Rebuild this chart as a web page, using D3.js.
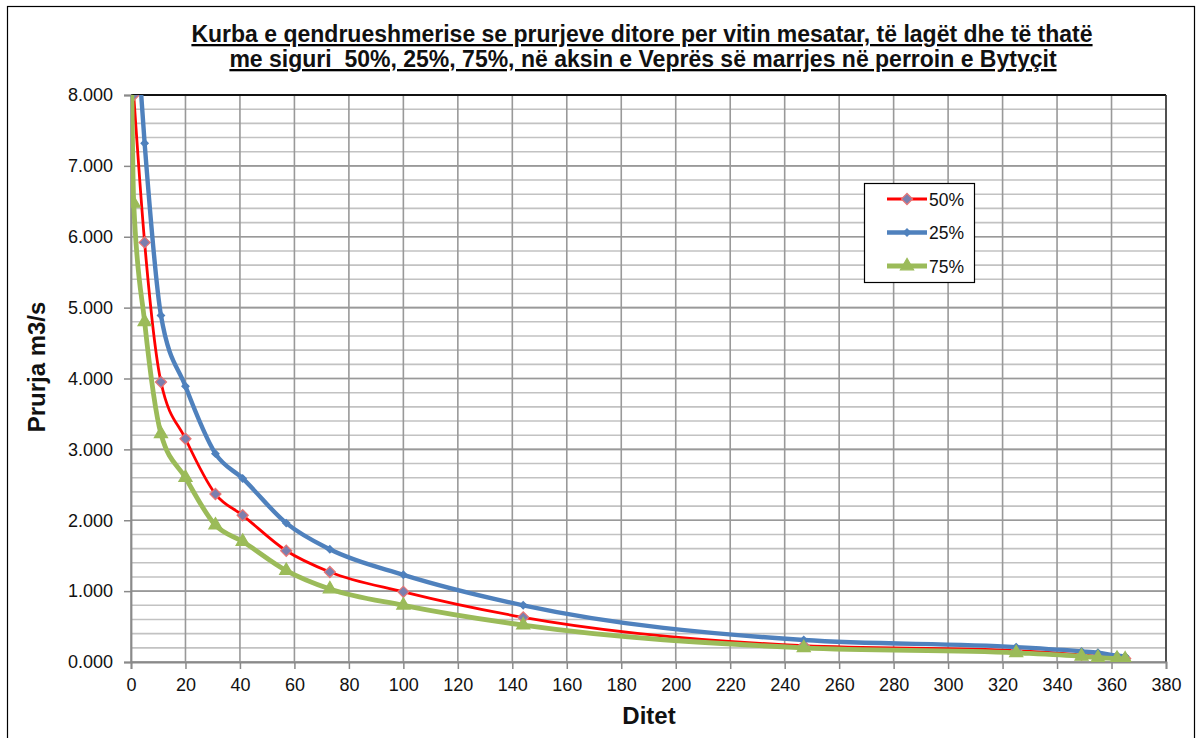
<!DOCTYPE html>
<html lang="sq">
<head>
<meta charset="UTF-8">
<title>Kurba e qendrueshmerise</title>
<script src="https://cdn.jsdelivr.net/npm/d3@7"></script>
<style>
  body { margin: 0; background: #fff; font-family: "Liberation Sans", Arial, sans-serif; }
  svg text { fill: #111; }
</style>
</head>
<body>
<svg id="chart" width="1201" height="738"></svg>
<script>
// days on x (shared), flow values per series (m3/s); null = no point
const days   = [0, 1, 5, 11, 20, 31, 41, 57, 73, 100, 144, 247, 325, 349, 355, 362, 365];
const p50    = [null, 8.0, 5.92, 3.95, 3.15, 2.37, 2.07, 1.57, 1.27, 0.99, 0.63, 0.23, 0.16, 0.10, 0.08, 0.06, 0.05];
const p25    = [null, 9.5, 7.32, 4.89, 3.89, 2.94, 2.59, 1.96, 1.59, 1.23, 0.80, 0.31, 0.21, 0.15, 0.13, 0.09, 0.08];
const p75    = [9.0, 6.47, 4.80, 3.22, 2.60, 1.93, 1.70, 1.29, 1.03, 0.80, 0.52, 0.20, 0.13, 0.08, 0.06, 0.05, 0.04];
const seriesNames = ["50%", "25%", "75%"];
const xTicks = d3.range(0, 381, 20);
const yTicks = d3.range(0, 8.01, 1);
const yMinor = d3.range(0, 8.01, 0.2);

const svg = d3.select("#chart");
const pLeft = 131, pRight = 1166, pTop = 95, pBottom = 662;

const x = d3.scaleLinear().domain([0, 380]).range([pLeft, pRight]);
const y = d3.scaleLinear().domain([0, 8]).range([pBottom, pTop]);

// outer chart border
svg.append("rect").attr("x", 7.5).attr("y", 6.5).attr("width", 1187).attr("height", 760)
  .attr("fill", "none").attr("stroke", "#000").attr("stroke-width", 1.2);

// title
const title = svg.append("g").attr("font-weight", "bold").attr("font-size", 23)
  .attr("text-anchor", "middle").attr("text-decoration", "underline");
title.append("text").attr("x", 642).attr("y", 42)
  .text("Kurba e qendrueshmerise se prurjeve ditore per vitin mesatar, të lagët dhe të thatë");
title.append("text").attr("x", 643).attr("y", 67)
  .style("white-space", "pre")
  .text("me siguri  50%, 25%, 75%, në aksin e Veprës së marrjes në perroin e Bytyçit");

// grid
const grid = svg.append("g");
grid.selectAll(".minor").data(yMinor).join("line")
  .attr("x1", pLeft).attr("x2", pRight).attr("y1", d => y(d)).attr("y2", d => y(d))
  .attr("stroke", "#c2c2c2").attr("stroke-width", 1.6);
grid.selectAll(".major").data(yTicks).join("line")
  .attr("x1", pLeft).attr("x2", pRight).attr("y1", d => y(d)).attr("y2", d => y(d))
  .attr("stroke", "#999").attr("stroke-width", 1.6);
grid.selectAll(".vx").data(xTicks).join("line")
  .attr("x1", d => x(d)).attr("x2", d => x(d)).attr("y1", pTop).attr("y2", pBottom)
  .attr("stroke", "#999").attr("stroke-width", 1.6);

// plot border (top & right dark)
svg.append("line").attr("x1", pLeft).attr("x2", pRight).attr("y1", pTop).attr("y2", pTop)
  .attr("stroke", "#111").attr("stroke-width", 1.8);
svg.append("line").attr("x1", pRight).attr("x2", pRight).attr("y1", pTop).attr("y2", pBottom)
  .attr("stroke", "#333").attr("stroke-width", 1.5);

// axes
const yAxis = svg.append("g").attr("transform", `translate(${pLeft},0)`)
  .call(d3.axisLeft(y).tickValues(yTicks).tickFormat(d3.format(".3f")).tickSize(7).tickPadding(11));
const xAxis = svg.append("g").attr("transform", `translate(0,${pBottom})`)
  .call(d3.axisBottom(x).tickValues(xTicks).tickSize(7).tickPadding(9));
[yAxis, xAxis].forEach(a => {
  a.select(".domain").attr("stroke", "#8a8a8a").attr("stroke-width", 1.8);
  a.selectAll(".tick line").attr("stroke", "#8a8a8a").attr("stroke-width", 1.5);
  a.selectAll("text").attr("font-size", 18).attr("font-family", "Liberation Sans, Arial, sans-serif").attr("fill", "#111");
});

svg.append("text").attr("transform", "translate(45,367) rotate(-90)")
  .attr("text-anchor", "middle").attr("font-weight", "bold").attr("font-size", 24).text("Prurja m3/s");
svg.append("text").attr("x", 649).attr("y", 724)
  .attr("text-anchor", "middle").attr("font-weight", "bold").attr("font-size", 24).text("Ditet");

// series
svg.append("clipPath").attr("id", "plot").append("rect")
  .attr("x", pLeft).attr("y", pTop).attr("width", pRight - pLeft).attr("height", pBottom - pTop);

const series = [
  { name: seriesNames[0], values: p50, color: "#ff0000", width: 2.8,
    symbol: d3.symbolSquare, size: 62, rot: 45, fill: "#7b7fae", stroke: "#e87474" },
  { name: seriesNames[1], values: p25, color: "#4f81bd", width: 4.4,
    symbol: d3.symbolSquare, size: 26, rot: 45, fill: "#4f81bd", stroke: "#4f81bd" },
  { name: seriesNames[2], values: p75, color: "#9bbb59", width: 4.8,
    symbol: d3.symbolTriangle, size: 75, rot: 0, fill: "#9bbb59", stroke: "#9bbb59" }
];

const line = d3.line()
  .defined(d => d[1] != null)
  .x(d => x(d[0])).y(d => y(d[1]))
  .curve(d3.curveMonotoneX);

const plot = svg.append("g").attr("clip-path", "url(#plot)");
series.forEach(s => {
  const pts = days.map((d, i) => [d, s.values[i]]);
  plot.append("path").datum(pts).attr("d", line)
    .attr("fill", "none").attr("stroke", s.color).attr("stroke-width", s.width)
    .attr("stroke-linejoin", "round");
  plot.selectAll(null).data(pts.filter(p => p[1] != null)).join("path")
    .attr("d", d3.symbol(s.symbol, s.size))
    .attr("transform", p => `translate(${x(p[0])},${y(p[1])}) rotate(${s.rot})`)
    .attr("fill", s.fill).attr("stroke", s.stroke).attr("stroke-width", 1.2);
});

// legend
const lg = svg.append("g").attr("transform", "translate(864,183)");
lg.append("rect").attr("x", 0.5).attr("y", 0.5).attr("width", 110).attr("height", 99)
  .attr("fill", "#fff").attr("stroke", "#000").attr("stroke-width", 1.2);
series.forEach((s, i) => {
  const g = lg.append("g").attr("transform", `translate(0,${16 + i * 33.5})`);
  g.append("line").attr("x1", 23).attr("x2", 63).attr("stroke", s.color).attr("stroke-width", s.width);
  g.append("path").attr("d", d3.symbol(s.symbol, s.size)).attr("transform", `translate(43,0) rotate(${s.rot})`)
    .attr("fill", s.fill).attr("stroke", s.stroke).attr("stroke-width", 1.2);
  g.append("text").attr("x", 65).attr("y", 6.5).attr("font-size", 17.5).text(s.name);
});
</script>
</body>
</html>
